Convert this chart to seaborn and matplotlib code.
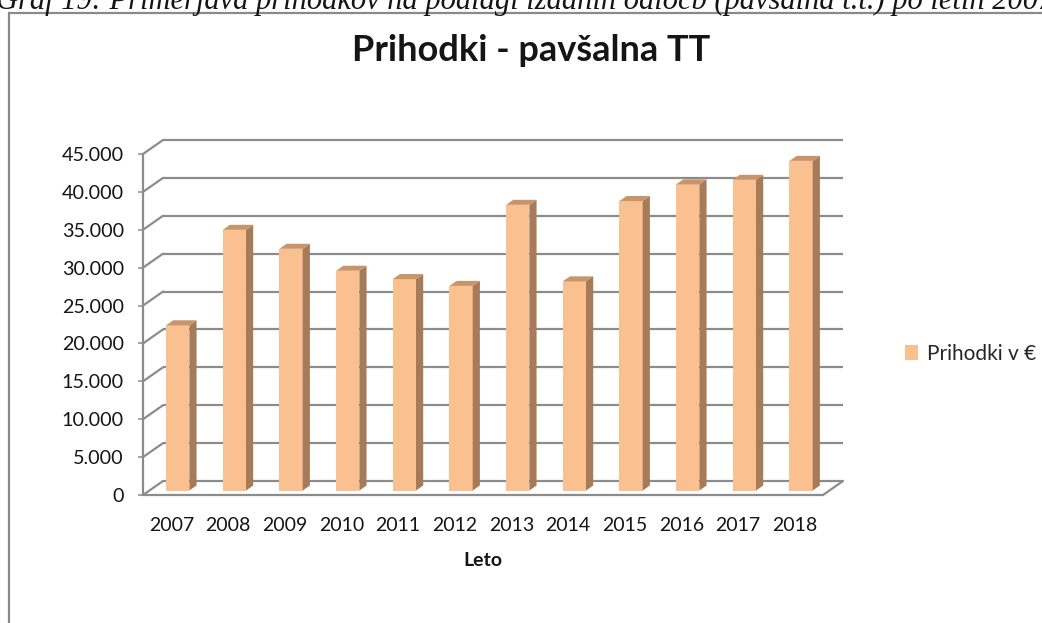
import matplotlib
matplotlib.use("Agg")
import matplotlib.pyplot as plt
from matplotlib.patches import Polygon, Rectangle, Patch
from matplotlib.lines import Line2D
import seaborn as sns

# ---- data ----
years = ["2007", "2008", "2009", "2010", "2011", "2012",
         "2013", "2014", "2015", "2016", "2017", "2018"]
revenue = [21800, 34400, 31900, 29000, 27900, 27000,
           37700, 27600, 38200, 40400, 41000, 43500]
y_ticks = list(range(0, 45001, 5000))
series_label = "Prihodki v €"
title = "Prihodki - pavšalna TT"
x_label = "Leto"
caption = "Graf 19: Primerjava prihodkov na podlagi izdanih odločb (pavšalna t.t.) po letih 2007-2018"

# ---- style ----
W, H = 1042, 623
sns.set_style("white")
plt.rcParams["font.family"] = ["Lato", "DejaVu Sans"]

FRONT = "#FAC090"
SIDE = "#A57B59"
TOP = "#C8946A"
GRID = "#8C8C8C"
TEXT = "#151515"

def fx(px):
    return px / W

def fy(py):
    return 1 - py / H

fig = plt.figure(figsize=(W / 100, H / 100), dpi=100)
fig.patch.set_facecolor("white")

# front plane of the 3D box
left, right, bottom, top = 143, 823, 495, 154
ax = fig.add_axes([fx(left), fy(bottom), (right - left) / W, (bottom - top) / H])

sns.barplot(x=years, y=revenue, color=FRONT, saturation=1, width=0.41, ax=ax, zorder=3)

ax.set_xlim(-0.5, 11.5)
ax.set_ylim(0, 45000)
for s in ax.spines.values():
    s.set_visible(False)
ax.grid(False)

# depth offsets (data units) corresponding to 20 px right, 14 px up
px_per_x = (right - left) / 12.0
px_per_y = (bottom - top) / 45000.0
DX = 20 / px_per_x
DY = 14 / px_per_y

x0, x1 = -0.5, 11.5
lw = 1.6
# back wall gridlines and slanted side-wall lines
for t in y_ticks:
    ax.add_line(Line2D([x0 + DX, x1 + DX], [t + DY, t + DY], color=GRID, lw=lw,
                       clip_on=False, zorder=1, solid_capstyle="butt"))
    ax.add_line(Line2D([x0, x0 + DX], [t, t + DY], color=GRID, lw=lw,
                       clip_on=False, zorder=1))
# front vertical axis
ax.add_line(Line2D([x0, x0], [0, 45000], color=GRID, lw=lw, clip_on=False, zorder=2))
# floor front edge and right edge
ax.add_line(Line2D([x0, x1], [0, 0], color=GRID, lw=lw, clip_on=False, zorder=2))
ax.add_line(Line2D([x1, x1 + DX], [0, DY], color=GRID, lw=lw, clip_on=False, zorder=2))

# 3D bars: shift front faces into depth, add side and top faces
f0, d = 0.32, 0.36
for p in ax.patches:
    if not isinstance(p, Rectangle):
        continue
    x = p.get_x() + f0 * DX
    w = p.get_width()
    h = p.get_height()
    y = f0 * DY
    p.set_x(x)
    p.set_y(y)
    p.set_edgecolor("none")
    p.set_clip_on(False)
    side = Polygon([(x + w, y), (x + w, y + h), (x + w + d * DX, y + h + d * DY),
                    (x + w + d * DX, y + d * DY)], closed=True,
                   facecolor=SIDE, edgecolor="none", clip_on=False, zorder=3)
    topf = Polygon([(x, y + h), (x + w, y + h), (x + w + d * DX, y + h + d * DY),
                    (x + d * DX, y + h + d * DY)], closed=True,
                   facecolor=TOP, edgecolor="none", clip_on=False, zorder=3)
    ax.add_patch(side)
    ax.add_patch(topf)

# ticks
ax.set_yticks(y_ticks)
ax.set_yticklabels([f"{v:,}".replace(",", ".") for v in y_ticks])
ax.tick_params(axis="y", length=3.8, width=1.1, color=GRID, pad=10,
               labelsize=14.2, labelcolor=TEXT, left=True)
ax.tick_params(axis="x", length=0, pad=16, labelsize=14, labelcolor=TEXT)
ax.set_xlabel(x_label, fontsize=14, fontweight="bold", labelpad=13, color=TEXT)
ax.set_ylabel("")

# title
fig.text(fx(531), fy(61), title, ha="center", va="baseline",
         fontsize=26, fontweight="bold", color=TEXT)

# legend
handles = [Patch(facecolor=FRONT, edgecolor="none", label=series_label)]
fig.legend(handles=handles, loc="center left", bbox_to_anchor=(fx(905), fy(354)),
           frameon=False, fontsize=15, handlelength=0.6, handleheight=0.75,
           handletextpad=0.45, borderpad=0, borderaxespad=0)

# outer chart frame (extends beyond the image)
frame = Rectangle((fx(9), fy(H + 20)), (W + 20 - 9) / W, (H + 20 - 13) / H,
                  transform=fig.transFigure, fill=False, edgecolor="#8A8A8A",
                  lw=1.6, clip_on=False)
fig.add_artist(frame)

# document caption, cut off at the top of the image
fig.text(fx(-4), fy(-14), caption, ha="left", va="top",
         fontsize=22, fontstyle="italic", family=["Liberation Serif", "DejaVu Serif"],
         color=TEXT)

fig.savefig("out.png", dpi=100)
